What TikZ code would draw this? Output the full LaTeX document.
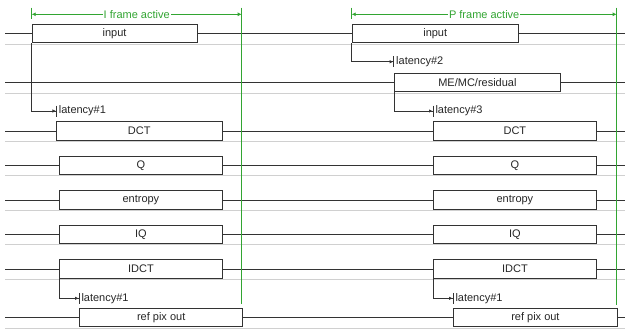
\documentclass[tikz,border=0pt]{standalone}
\usepackage{fontspec}
\setmainfont{Liberation Sans}
\usetikzlibrary{arrows.meta, positioning}

\definecolor{frmgreen}{RGB}{50,165,50}
\definecolor{guide}{RGB}{208,208,208}

\begin{document}
\begin{tikzpicture}[x=1pt, y=-1pt,
  blk/.style={rectangle, draw=black!80, line width=0.8pt, minimum height=18.4pt, inner sep=0pt, anchor=west, text=black!85, font=\fontsize{11}{13}\selectfont},
  sig/.style={draw=black!80, line width=1pt},
  lat/.style={draw=black!80, line width=0.8pt, -{Latex[length=3.5pt,width=3.5pt]Bar[width=11pt]}},
  lbl/.style={anchor=west, inner sep=2pt, text=black!85, font=\fontsize{11}{13}\selectfont},
  frm/.style={draw=frmgreen, line width=1pt, {Latex[length=4pt,width=4pt]}-{Latex[length=4pt,width=4pt]}},
  frmline/.style={draw=frmgreen, line width=1pt},
  frmtxt/.style={fill=white, text=frmgreen, inner sep=1pt, font=\fontsize{11}{13}\selectfont}
]
  \useasboundingbox (0,0) rectangle (625,330);
  \coordinate (lft) at (5,0);
  \coordinate (rgt) at (625,0);

  % grey guide lines under each row
  \foreach \y in {44,93,141.3,175.8,210.3,244.8,279.3,328}
    \draw[guide, line width=0.8pt] (5,\y) -- (625,\y);

  % boxes, I frame
  \node[blk, minimum width=165pt] (iin) at (31.7,33.5) {input};
  \node[blk, minimum width=165.7pt] (idct) at (56,131) {DCT};
  \node[blk, minimum width=162.4pt] (iq) at (59.3,165.5) {Q};
  \node[blk, minimum width=162.4pt] (ient) at (59.3,200) {entropy};
  \node[blk, minimum width=162.4pt] (iiq) at (59.3,234.5) {IQ};
  \node[blk, minimum width=162.4pt] (iidct) at (59.3,269) {IDCT};
  \node[blk, minimum width=163pt] (iref) at (79.3,317.5) {ref pix out};

  % boxes, P frame
  \node[blk, minimum width=166.3pt] (pin) at (351.7,33.5) {input};
  \node[blk, minimum width=166pt] (pme) at (394,82.5) {ME/MC/residual};
  \node[blk, minimum width=162.4pt] (pdct) at (433.3,131) {DCT};
  \node[blk, minimum width=162.4pt] (pq) at (433.3,165.5) {Q};
  \node[blk, minimum width=162.4pt] (pent) at (433.3,200) {entropy};
  \node[blk, minimum width=162.4pt] (piq) at (433.3,234.5) {IQ};
  \node[blk, minimum width=162.4pt] (pidct) at (433.3,269) {IDCT};
  \node[blk, minimum width=163.4pt] (pref) at (453.3,317.5) {ref pix out};

  % signal lines
  \draw[sig] (iin.west -| lft) -- (iin.west) (iin.east) -- (pin.west) (pin.east) -- (pin.east -| rgt);
  \draw[sig] (pme.west -| lft) -- (pme.west) (pme.east) -- (pme.east -| rgt);
  \draw[sig] (idct.west -| lft) -- (idct.west) (idct.east) -- (pdct.west) (pdct.east) -- (pdct.east -| rgt);
  \draw[sig] (iq.west -| lft) -- (iq.west) (iq.east) -- (pq.west) (pq.east) -- (pq.east -| rgt);
  \draw[sig] (ient.west -| lft) -- (ient.west) (ient.east) -- (pent.west) (pent.east) -- (pent.east -| rgt);
  \draw[sig] (iiq.west -| lft) -- (iiq.west) (iiq.east) -- (piq.west) (piq.east) -- (piq.east -| rgt);
  \draw[sig] (iidct.west -| lft) -- (iidct.west) (iidct.east) -- (pidct.west) (pidct.east) -- (pidct.east -| rgt);
  \draw[sig] (iref.west -| lft) -- (iref.west) (iref.east) -- (pref.west) (pref.east) -- (pref.east -| rgt);

  % latencies
  \node[lbl] (ilat1) at (56.7,111) {latency\#1};
  \node[lbl] (plat2) at (394,61.7) {latency\#2};
  \node[lbl] (plat3) at (433.3,111) {latency\#3};
  \node[lbl] (ilat4) at (79.3,298.3) {latency\#1};
  \node[lbl] (plat4) at (453.3,298.3) {latency\#1};
  \draw[lat] (iin.south west) |- (ilat1.west);
  \draw[lat] (pin.south west) |- (plat2.west);
  \draw[lat] (pme.south west) |- (plat3.west);
  \draw[lat] (iidct.south west) |- (ilat4.west);
  \draw[lat] (pidct.south west) |- (plat4.west);

  % frame markers
  \coordinate (ifs) at (31.7,14.3);
  \coordinate (ife) at (241.7,14.3);
  \coordinate (pfs) at (351.7,14.3);
  \coordinate (pfe) at (616.7,14.3);
  \draw[frmline] (31.7,7.5) -- (31.7,18.5);
  \draw[frmline] (241.7,7.5) -- (241.7,304);
  \draw[frmline] (351.7,7.5) -- (351.7,18.5);
  \draw[frmline] (616.7,7.5) -- (616.7,305);
  \draw[frm] (ifs) -- node[frmtxt] (itxt) {I frame active} (ife);
  \draw[frm] (pfs) -- node[frmtxt] (ptxt) {P frame active} (pfe);
\end{tikzpicture}
\end{document}
